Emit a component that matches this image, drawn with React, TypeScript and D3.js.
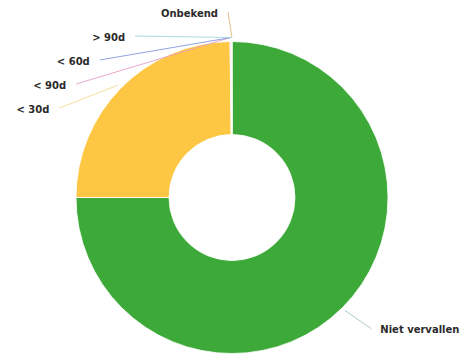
import React from "react";
import * as d3 from "d3";

const categories = ["Niet vervallen", "< 30d", "< 90d", "< 60d", "> 90d", "Onbekend"];
const values = [75.0, 24.8, 0.08, 0.06, 0.04, 0.02];
const sliceColors = ["#3ca938", "#fdc743", "#e07bb4", "#6b86d6", "#7fc9d3", "#e0b36a"];
const tickColors = ["#9dbfbf", "#f6d88c", "#e59ac6", "#7d93dc", "#9fd3da", "#dcb57a"];

const W = 462;
const H = 356;
const cx = 232;
const cy = 197.5;
const outerR = 156;
const innerR = 63;
const labelRx = 197;
const labelRy = 185.5;
const spacing = 24;

export default function App() {
  const pie = d3.pie<number>().sort(null).value((d) => d)(values);
  const arc = d3.arc<d3.PieArcDatum<number>>().innerRadius(innerR).outerRadius(outerR);

  type L = { i: number; mid: number; x: number; y: number; right: boolean };
  const labels: L[] = pie.map((p, i) => {
    const mid = (p.startAngle + p.endAngle) / 2;
    return {
      i,
      mid,
      x: cx + labelRx * Math.sin(mid),
      y: cy - labelRy * Math.cos(mid),
      right: Math.sin(mid) >= 0,
    };
  });

  const left = labels.filter((l) => !l.right).sort((a, b) => a.y - b.y);
  for (let k = 1; k < left.length; k++) {
    if (left[k].y < left[k - 1].y + spacing) left[k].y = left[k - 1].y + spacing;
  }
  const right = labels.filter((l) => l.right).sort((a, b) => a.y - b.y);
  for (let k = 1; k < right.length; k++) {
    if (right[k].y < right[k - 1].y + spacing) right[k].y = right[k - 1].y + spacing;
  }
  labels.forEach((l) => {
    const t = Math.max(0, 1 - ((l.y - cy) / labelRy) ** 2);
    const dx = Math.max(labelRx * Math.sqrt(t), 4);
    l.x = l.right ? cx + dx : cx - dx;
  });

  const tickR = outerR + 4;

  return (
    <svg
      width={W}
      height={H}
      style={{ position: "absolute", left: 0, top: 0, background: "#fff" }}
    >
      <g transform={`translate(${cx},${cy})`}>
        {pie.map((p, i) => (
          <path
            key={i}
            d={arc(p) || ""}
            fill={sliceColors[i]}
            stroke="#fff"
            strokeWidth={1}
            strokeOpacity={0.8}
          />
        ))}
      </g>
      {labels.map((l) => {
        const ex = cx + tickR * Math.sin(l.mid);
        const ey = cy - tickR * Math.cos(l.mid);
        return (
          <g key={l.i}>
            <line
              x1={l.x}
              y1={l.y}
              x2={ex}
              y2={ey}
              stroke={tickColors[l.i]}
              strokeWidth={1}
              strokeOpacity={0.85}
            />
            <text
              x={l.right ? l.x + 9 : l.x - 10}
              y={l.y + 1}
              textAnchor={l.right ? "start" : "end"}
              dominantBaseline="central"
              fontFamily="DejaVu Sans, Verdana, sans-serif"
              fontWeight="bold"
              fontSize={10}
              fill="#2b2b2b"
            >
              {categories[l.i]}
            </text>
          </g>
        );
      })}
    </svg>
  );
}
